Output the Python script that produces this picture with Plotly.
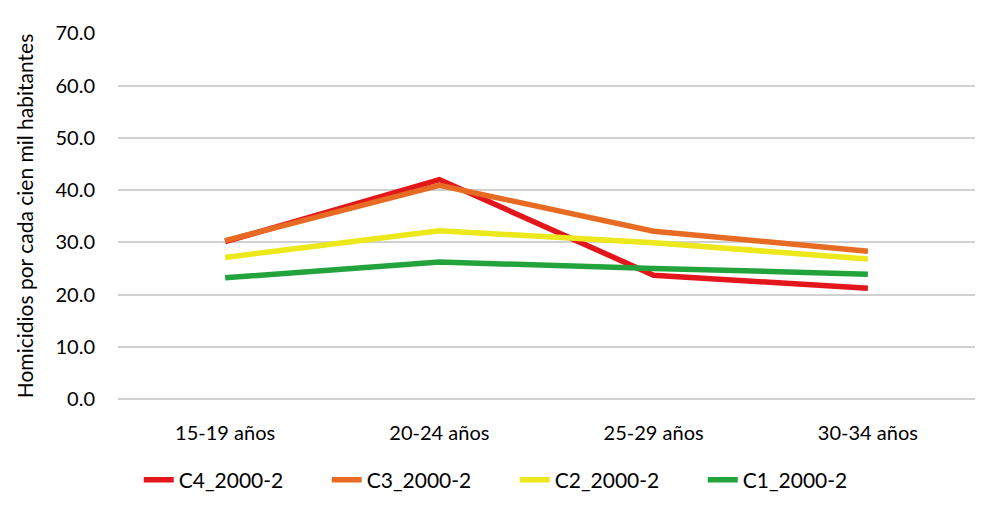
import plotly.graph_objects as go

categories = ["15-19 años", "20-24 años", "25-29 años", "30-34 años"]
c4 = [30.1, 42.0, 23.7, 21.2]
c3 = [30.3, 40.9, 32.1, 28.3]
c2 = [27.1, 32.2, 29.9, 26.8]
c1 = [23.2, 26.2, 25.0, 23.9]
series_names = ["C4_2000-2", "C3_2000-2", "C2_2000-2", "C1_2000-2"]
colors = ["#E3171B", "#E86B23", "#EDE81C", "#23A33C"]

fig = go.Figure()
for name, vals, col in zip(series_names, [c4, c3, c2, c1], colors):
    fig.add_trace(go.Scatter(x=categories, y=vals, mode="lines", name=name,
                             line=dict(color=col, width=5.5)))

fig.update_layout(
    width=998, height=528,
    paper_bgcolor="white", plot_bgcolor="white",
    margin=dict(l=110, r=31, t=25, b=137),
    font=dict(family="Lato, Liberation Sans, sans-serif", size=18, color="#000"),
    showlegend=True,
    legend=dict(orientation="h", xref="container", yref="container",
                x=0.131, xanchor="left", y=0.106, yanchor="middle",
                font=dict(size=21), entrywidth=143, entrywidthmode="pixels",
                tracegroupgap=0),
    xaxis=dict(showgrid=False, showline=False, ticks="", tickfont=dict(size=20),
               range=[-0.5, 3.5], ticklabelstandoff=20),
    yaxis=dict(range=[0, 70.05], dtick=10, tickformat=".1f", showgrid=True,
               gridcolor="#D0D0D0", gridwidth=1.5, zeroline=True, zerolinecolor="#D0D0D0",
               zerolinewidth=1.5, showline=False, ticks="", ticklabelstandoff=22,
               tickfont=dict(size=20),
               title=dict(text="Homicidios por cada cien mil habitantes", font=dict(size=21),
                          standoff=16)),
)
fig.write_html("out.html")
